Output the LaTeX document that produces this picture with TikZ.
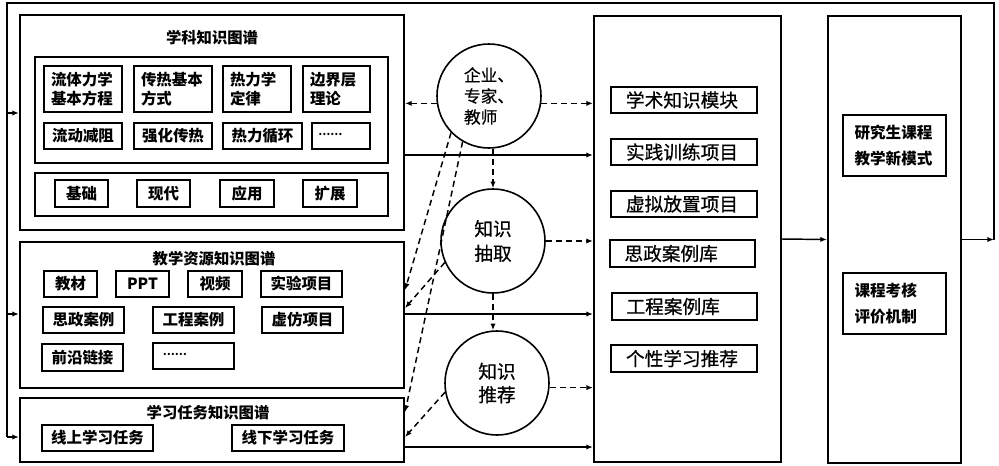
\documentclass[tikz,border=0pt]{standalone}
\usepackage{fontspec}
\setmainfont{Noto Sans CJK SC}
\newfontfamily\midfont{Noto Sans CJK SC}[FakeBold=0.6]
\usetikzlibrary{arrows.meta}
% \bx[style]{x1}{y1}{x2}{y2}{name} {text};
\newcommand\bx[6][]{\node[#1, minimum width={(#4-#2)*0.75pt}, minimum height={(#5-#3)*0.75pt}] (#6) at ({(#2+#4)/2},{(#3+#5)/2})}
\begin{document}
\begin{tikzpicture}[x=0.75pt,y=-0.75pt,
  outer/.style={draw, line width=1.6pt, inner sep=0pt},
  grp/.style={draw, line width=1.2pt, inner sep=0pt},
  itm/.style={draw, line width=1pt, inner sep=0pt, font=\bfseries\fontsize{11.6}{14}\selectfont},
  ttl/.style={inner sep=0pt, font=\bfseries\fontsize{11.5}{14}\selectfont},
  circ/.style={draw, circle, line width=1.2pt, minimum size=78pt, inner sep=0pt},
  mitem/.style={draw, line width=1pt, inner sep=0pt, font=\midfont\fontsize{14}{16}\selectfont, text width=87pt, align=left},
  ritem/.style={draw, line width=1pt, inner sep=0pt, font=\bfseries\fontsize{11.7}{19.5}\selectfont, text width=60pt, align=left},
  arr/.style={-{Latex[length=5pt,width=4pt]}},
  sol/.style={arr, line width=1.1pt},
  dsh/.style={arr, line width=1.1pt, dash pattern=on 4.5pt off 3pt},
  fb/.style={line width=1pt}]
\useasboundingbox (0,0) rectangle (999,465);

% ---------- left: subject knowledge graph
\bx[outer]{20}{15}{404}{230}{B1} {};
\node[ttl] (t1) at (212,38) {学科知识图谱};
\bx[grp]{35}{57}{388}{163}{A1} {};
\bx[itm, text width=48pt, align=left]{44}{66}{122}{112}{a11} {流体力学\\基本方程};
\bx[itm, text width=48pt, align=left]{134}{66}{212}{112}{a12} {传热基本\\方式};
\bx[itm, text width=40.5pt, align=left]{223}{66}{291}{112}{a13} {热力学\\定律};
\bx[itm, text width=39.75pt, align=left]{303}{66}{370}{112}{a14} {边界层\\理论};
\bx[itm]{44}{123}{122}{149}{a21} {流动减阻};
\bx[itm]{134}{123}{212}{149}{a22} {强化传热};
\bx[itm]{223}{123}{302}{149}{a23} {热力循环};
\bx[itm, text width=34pt, align=left]{312}{123}{370}{149}{a24} {\fontsize{8}{10}\selectfont\raisebox{2.5pt}{……}};
\bx[grp]{35}{173}{388}{216}{A2} {};
\bx[itm]{55}{180}{108}{207}{b1} {基础};
\bx[itm]{137}{180}{190}{207}{b2} {现代};
\bx[itm]{220}{180}{274}{207}{b3} {应用};
\bx[itm]{303}{180}{357}{207}{b4} {扩展};

% ---------- left: teaching resources
\bx[outer]{20}{242}{404}{388}{B2} {};
\node[ttl] (t2) at (214,259) {教学资源知识图谱};
\bx[itm]{44}{271}{97}{297}{c1} {教材};
\bx[itm]{116}{271}{169}{297}{c2} {PPT};
\bx[itm]{188}{271}{242}{297}{c3} {视频};
\bx[itm]{261}{271}{342}{297}{c4} {实验项目};
\bx[itm]{43}{307}{124}{333}{c5} {思政案例};
\bx[itm]{153}{307}{234}{333}{c6} {工程案例};
\bx[itm]{262}{307}{343}{333}{c7} {虚仿项目};
\bx[itm]{42}{344}{123}{371}{c8} {前沿链接};
\bx[itm, text width=46pt, align=left]{153}{343}{234}{369}{c9} {\fontsize{8}{10}\selectfont\raisebox{2.5pt}{……}};

% ---------- left: learning tasks
\bx[outer]{20}{398}{404}{462}{B3} {};
\node[ttl] (t3) at (208,413) {学习任务知识图谱};
\bx[itm]{42}{425}{153}{451}{d1} {线上学习任务};
\bx[itm]{232}{425}{344}{451}{d2} {线下学习任务};

% ---------- circles
\node[circ, align=left, font=\midfont\fontsize{12.5}{15.75}\selectfont] (C1) at (489,96) {企业、\\专家、\\教师};
\node[circ, align=center, font=\midfont\fontsize{14}{18.5}\selectfont] (C2) at (493,241) {知识\\抽取};
\node[circ, align=center, font=\midfont\fontsize{14}{17.5}\selectfont] (C3) at (497,383) {知识\\推荐};

% ---------- middle box
\bx[outer]{594}{16}{781}{462}{M} {};
\bx[mitem]{611}{87}{757}{113}{m1} {学术知识模块};
\bx[mitem]{611}{139}{757}{165}{m2} {实践训练项目};
\bx[mitem]{611}{191}{757}{217}{m3} {虚拟放置项目};
\bx[mitem]{610}{240}{755}{267}{m4} {思政案例库};
\bx[mitem]{612}{293}{757}{320}{m5} {工程案例库};
\bx[mitem]{611}{345}{757}{372}{m6} {个性学习推荐};

% ---------- right box
\bx[outer]{828}{16}{961}{463}{R} {};
\bx[ritem]{843}{115}{946}{176}{r1} {研究生课程\\教学新模式};
\bx[ritem]{843}{273}{946}{334}{r2} {课程考核\\评价机制};

% ---------- solid connectors
\draw[sol] (B1.east |- 0,155) -- (M.west |- 0,155);
\draw[sol] (B2.east |- 0,314) -- (M.west |- 0,314);
\draw[sol] (B3.east |- 0,447) -- (M.west |- 0,447);
\draw[sol] (M.east) -- (R.west);

% ---------- dashed connectors
\draw[dsh] (C1.188) -- (C1.188 -| B1.east);
\draw[dsh] (C1.-8) -- (C1.-8 -| M.west);
\draw[dsh] (C2.north |- C1.south) -- (C2.north);
\draw[dsh] (C2.south) -- (C2.south |- C3.north);
\draw[dsh] (C2.0) -- (C2.0 -| M.west);
\draw[dsh] (C3.-5) -- (C3.-5 -| M.west);
\draw[dsh] (C1.224) -- (B2.east |- 0,290);
\draw[dsh] (C1.240) -- (B3.east |- 0,412);
\draw[dsh] (C2.204) -- (B2.east |- 0,308);
\draw[dsh] (C3.190) -- (B3.east |- 0,437);

% ---------- feedback loop
\coordinate (fbR) at (994,239.5);
\coordinate (fbTR) at (994,3);
\coordinate (fbTL) at (7,3);
\draw[arr, fb] (R.east) -- (fbR);
\draw[fb] (fbR) -- (fbTR) -- (fbTL) -- (fbTL |- 0,437);
\draw[arr, fb] (fbTL |- 0,113) -- (B1.west |- 0,113);
\draw[arr, fb] (fbTL |- 0,314) -- (B2.west |- 0,314);
\draw[arr, fb] (fbTL |- 0,437) -- (B3.west |- 0,437);
\end{tikzpicture}
\end{document}
